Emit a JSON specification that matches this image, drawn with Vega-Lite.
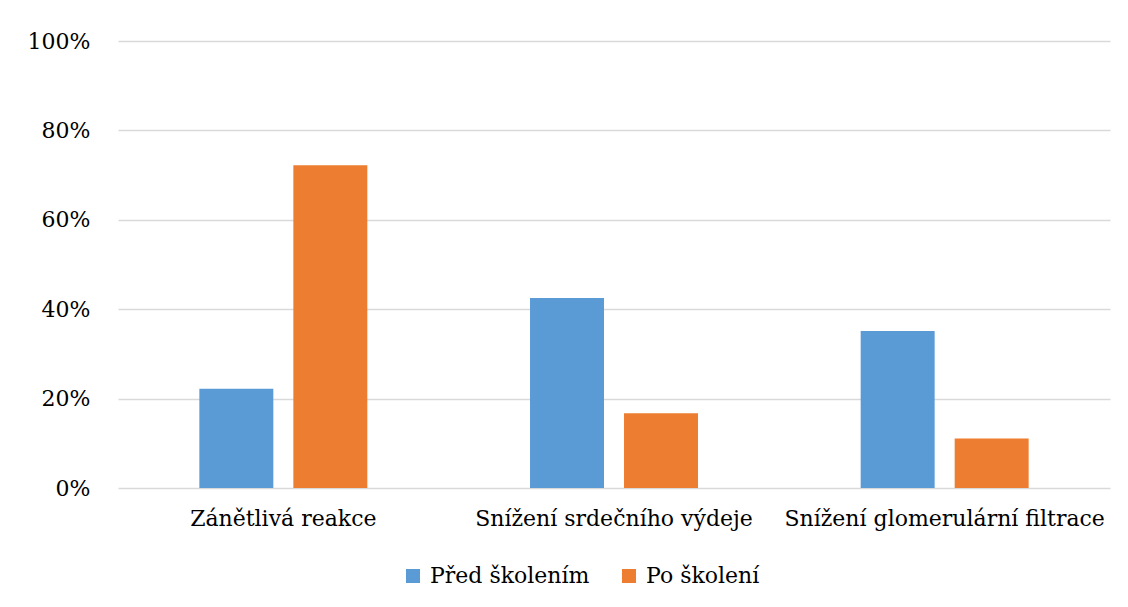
{
  "$schema": "https://vega.github.io/schema/vega-lite/v6.json",
  "autosize": {"type": "none"},
  "width": 992,
  "height": 447,
  "padding": {"left": 118, "top": 41, "right": 18, "bottom": 119},
  "background": "white",
  "data": {
    "values": [
      {"kategorie": "Zánětlivá reakce", "skupina": "Před školením", "podil": 0.222},
      {"kategorie": "Zánětlivá reakce", "skupina": "Po školení", "podil": 0.722},
      {"kategorie": "Snížení srdečního výdeje", "skupina": "Před školením", "podil": 0.425},
      {"kategorie": "Snížení srdečního výdeje", "skupina": "Po školení", "podil": 0.167},
      {"kategorie": "Snížení glomerulární filtrace", "skupina": "Před školením", "podil": 0.351},
      {"kategorie": "Snížení glomerulární filtrace", "skupina": "Po školení", "podil": 0.111}
    ]
  },
  "mark": {"type": "bar"},
  "encoding": {
    "x": {
      "field": "kategorie",
      "type": "nominal",
      "sort": null,
      "title": null,
      "scale": {"paddingInner": 0.492, "paddingOuter": 0.246},
      "axis": {"labelAngle": 0, "ticks": false, "domain": false, "labelPadding": 20, "labelLimit": 400}
    },
    "xOffset": {
      "field": "skupina",
      "type": "nominal",
      "sort": ["Před školením", "Po školení"],
      "scale": {"paddingInner": 0.213, "paddingOuter": 0}
    },
    "y": {
      "field": "podil",
      "type": "quantitative",
      "title": null,
      "scale": {"domain": [0, 1]},
      "axis": {"format": ".0%", "values": [0, 0.2, 0.4, 0.6, 0.8, 1], "ticks": false, "domain": false, "labelPadding": 28, "gridColor": "#D9D9D9", "gridWidth": 1.5}
    },
    "color": {
      "field": "skupina",
      "type": "nominal",
      "title": null,
      "scale": {"domain": ["Před školením", "Po školení"], "range": ["#5B9BD5", "#ED7D31"]},
      "legend": {"orient": "none", "legendX": 284, "legendY": 524, "direction": "horizontal", "symbolType": "square", "symbolSize": 196, "symbolStrokeWidth": 0, "labelOffset": 6, "columnPadding": 28}
    }
  },
  "config": {
    "view": {"stroke": null},
    "axis": {"labelFont": "DejaVu Serif", "labelFontSize": 22, "labelColor": "#000000"},
    "legend": {"labelFont": "DejaVu Serif", "labelFontSize": 22, "labelColor": "#000000"}
  }
}
